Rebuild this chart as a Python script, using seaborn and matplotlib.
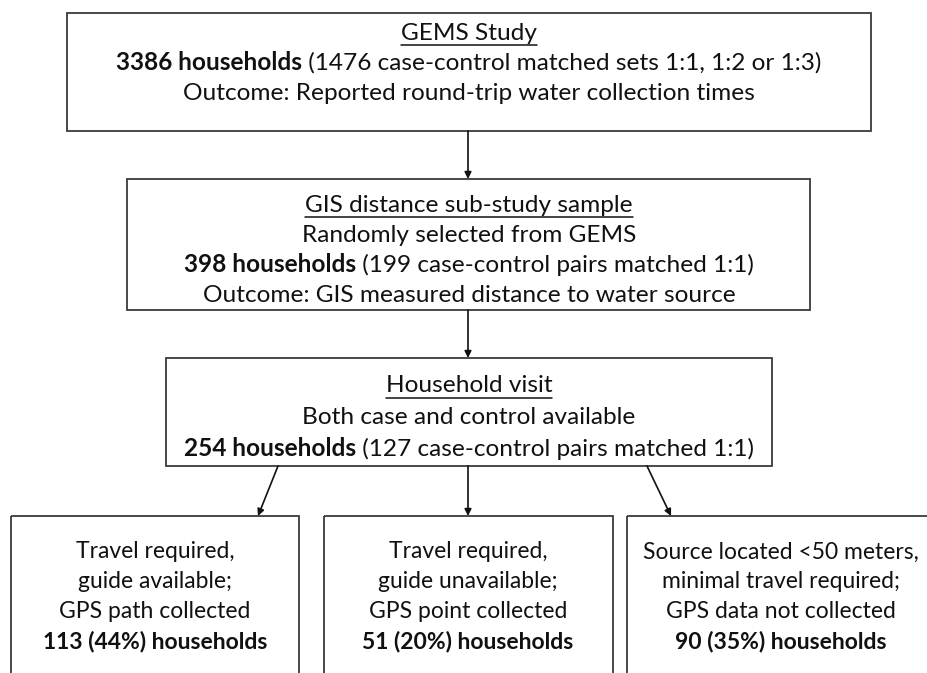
import matplotlib
matplotlib.use("Agg")
import matplotlib.pyplot as plt
import seaborn as sns
from matplotlib.patches import Rectangle

sns.set_theme(style="white")
plt.rcParams['font.family'] = ['Lato', 'DejaVu Sans']

# ---- data: box contents (segments: text, bold, underline) ----
box1_lines = [
    [("GEMS Study", False, True)],
    [("3386 households", True, False), (" (1476 case-control matched sets 1:1, 1:2 or 1:3)", False, False)],
    [("Outcome: Reported round-trip water collection times", False, False)],
]
box2_lines = [
    [("GIS distance sub-study sample", False, True)],
    [("Randomly selected from GEMS", False, False)],
    [("398 households", True, False), (" (199 case-control pairs matched 1:1)", False, False)],
    [("Outcome: GIS measured distance to water source", False, False)],
]
box3_lines = [
    [("Household visit", False, True)],
    [("Both case and control available", False, False)],
    [("254 households", True, False), (" (127 case-control pairs matched 1:1)", False, False)],
]
bottom_texts = [
    ["Travel required,", "guide available;", "GPS path collected"],
    ["Travel required,", "guide unavailable;", "GPS point collected"],
    ["Source located <50 meters,", "minimal travel required;", "GPS data not collected"],
]
bottom_counts = [113, 51, 90]
bottom_pcts = [44, 20, 35]

W, H = 928, 673
fig = plt.figure(figsize=(W / 100, H / 100), dpi=100)
ax = fig.add_axes([0, 0, 1, 1])
ax.set_xlim(0, W)
ax.set_ylim(H, 0)
ax.axis("off")
fig.canvas.draw()
renderer = fig.canvas.get_renderer()

FS_TOP = 17.6
FS_BOT = 16.5
LW = 1.3
EC = "#3a3a3a"
TC = "#111111"


def box(x0, y0, x1, y1):
    ax.add_patch(Rectangle((x0, y0), x1 - x0, y1 - y0, fill=False, ec=EC, lw=LW, clip_on=True))


def line(cx, y, segs, fs):
    texts = []
    widths = []
    for s, bold, ul in segs:
        t = ax.text(0, y, s, fontsize=fs, fontweight="bold" if bold else "normal",
                    ha="left", va="center", color=TC)
        bb = t.get_window_extent(renderer)
        texts.append((t, ul))
        widths.append(bb.width)
    total = sum(widths)
    x = cx - total / 2
    for (t, ul), w in zip(texts, widths):
        t.set_x(x)
        if ul:
            ax.plot([x, x + w], [y + 12, y + 12], color=TC, lw=1.1)
        x += w


def arrow(x0, y0, x1, y1):
    ax.annotate("", xy=(x1, y1), xytext=(x0, y0),
                arrowprops=dict(arrowstyle="-|>", color=TC, lw=1.2,
                                mutation_scale=10, shrinkA=0, shrinkB=0))


# boxes
box(67, 13, 871, 131)
for seg, y in zip(box1_lines, [33, 63, 94]):
    line(469, y, seg, FS_TOP)
arrow(468, 131, 468, 179)

box(127, 179, 810, 310)
for seg, y in zip(box2_lines, [205, 235, 265, 295]):
    line(469, y, seg, FS_TOP)
arrow(468, 310, 468, 358)

box(166, 358, 772, 466)
for seg, y in zip(box3_lines, [386, 418, 449]):
    line(469, y, seg, FS_TOP)
arrow(278, 466, 258, 516)
arrow(468, 466, 468, 516)
arrow(647, 466, 671, 516)

bx = [(11, 299), (324, 613), (627, 940)]
centers = [155, 468, 781]
for (x0, x1), cx, lines, n, p in zip(bx, centers, bottom_texts, bottom_counts, bottom_pcts):
    box(x0, 516, x1, 700)
    for i, s in enumerate(lines):
        line(cx, 552 + 30 * i, [(s, False, False)], FS_BOT)
    line(cx, 642, [(f"{n} ({p}%) households", True, False)], FS_BOT)

fig.savefig("out.png", dpi=100, facecolor="white")
